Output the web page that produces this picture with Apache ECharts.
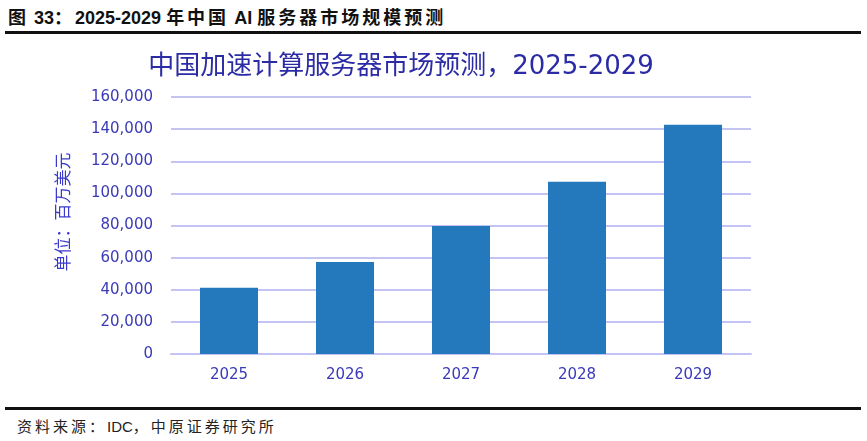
<!DOCTYPE html>
<html>
<head>
<meta charset="utf-8">
<script src="https://cdn.jsdelivr.net/npm/echarts@6/dist/echarts.min.js"></script>
<style>
html,body{margin:0;padding:0;background:#fff;}
#wrap{position:relative;width:867px;height:441px;overflow:hidden;font-family:"Liberation Sans","Noto Sans CJK SC",sans-serif;}
#hdr{position:absolute;left:8px;top:3px;font-size:18px;font-weight:bold;color:#111;font-family:"Liberation Sans","Noto Sans CJK SC",sans-serif;white-space:nowrap;}
#hdr .c{letter-spacing:3px;}
#hl{position:absolute;left:5px;top:31px;width:856px;height:3px;background:#111;}
#fl{position:absolute;left:5px;top:407px;width:856px;height:3px;background:#111;}
#ftr{position:absolute;left:17px;top:415px;font-size:15px;color:#222;font-family:"Liberation Sans","Noto Sans CJK SC",sans-serif;white-space:nowrap;}
#ftr .c{letter-spacing:3px;}
#chart{position:absolute;left:0;top:36px;width:867px;height:370px;}
</style>
</head>
<body>
<div id="wrap">
<div id="hdr"><span class="c">图</span> 33<span class="c">：</span>2025-2029 <span class="c">年中国</span> AI <span class="c">服务器市场规模预测</span></div>
<div id="hl"></div>
<div id="chart"></div>
<div id="fl"></div>
<div id="ftr"><span class="c">资料来源：</span>IDC<span class="c">，中原证券研究所</span></div>
</div>
<script>
var categories = ["2025", "2026", "2027", "2028", "2029"];
var values = [41300, 57300, 79700, 107300, 142800];
var chartTitle = "中国加速计算服务器市场预测，2025-2029";
var yAxisName = "单位：百万美元";

var chart = echarts.init(document.getElementById('chart'), null, {renderer: 'canvas'});
chart.setOption({
  animation: false,
  title: {
    text: chartTitle,
    left: 396,
    top: 13,
    textAlign: 'center',
    textStyle: {color: '#2b2ba6', fontSize: 26, fontWeight: 'normal', fontFamily: '"DejaVu Sans", "Noto Sans CJK SC", sans-serif'}
  },
  grid: {left: 171, right: 116, top: 61, bottom: 52},
  graphic: [{
    type: 'text',
    x: 63, y: 176,
    rotation: Math.PI / 2,
    style: {
      text: yAxisName,
      fill: '#3a3acc',
      fontSize: 17,
      fontFamily: '"Noto Sans CJK SC", sans-serif',
      textAlign: 'center',
      textVerticalAlign: 'middle'
    }
  }],
  xAxis: {
    type: 'category',
    data: categories,
    axisLine: {show: true, lineStyle: {color: '#c4c4f2', width: 2}},
    axisTick: {show: false},
    axisLabel: {color: '#3a3ab8', fontSize: 15, margin: 14, fontFamily: '"DejaVu Sans", sans-serif'}
  },
  yAxis: {
    type: 'value',
    min: 0, max: 160000, interval: 20000,
    axisLine: {show: false},
    axisTick: {show: false},
    splitLine: {lineStyle: {color: '#c4c4f2', width: 2}},
    axisLabel: {
      color: '#3a3ab8', fontSize: 15, margin: 18, fontFamily: '"DejaVu Sans", sans-serif',
      formatter: function (v) { return v.toLocaleString('en-US'); }
    }
  },
  series: [{
    type: 'bar',
    data: values,
    barWidth: '50%',
    itemStyle: {color: '#2479bd'}
  }]
});
</script>
</body>
</html>
